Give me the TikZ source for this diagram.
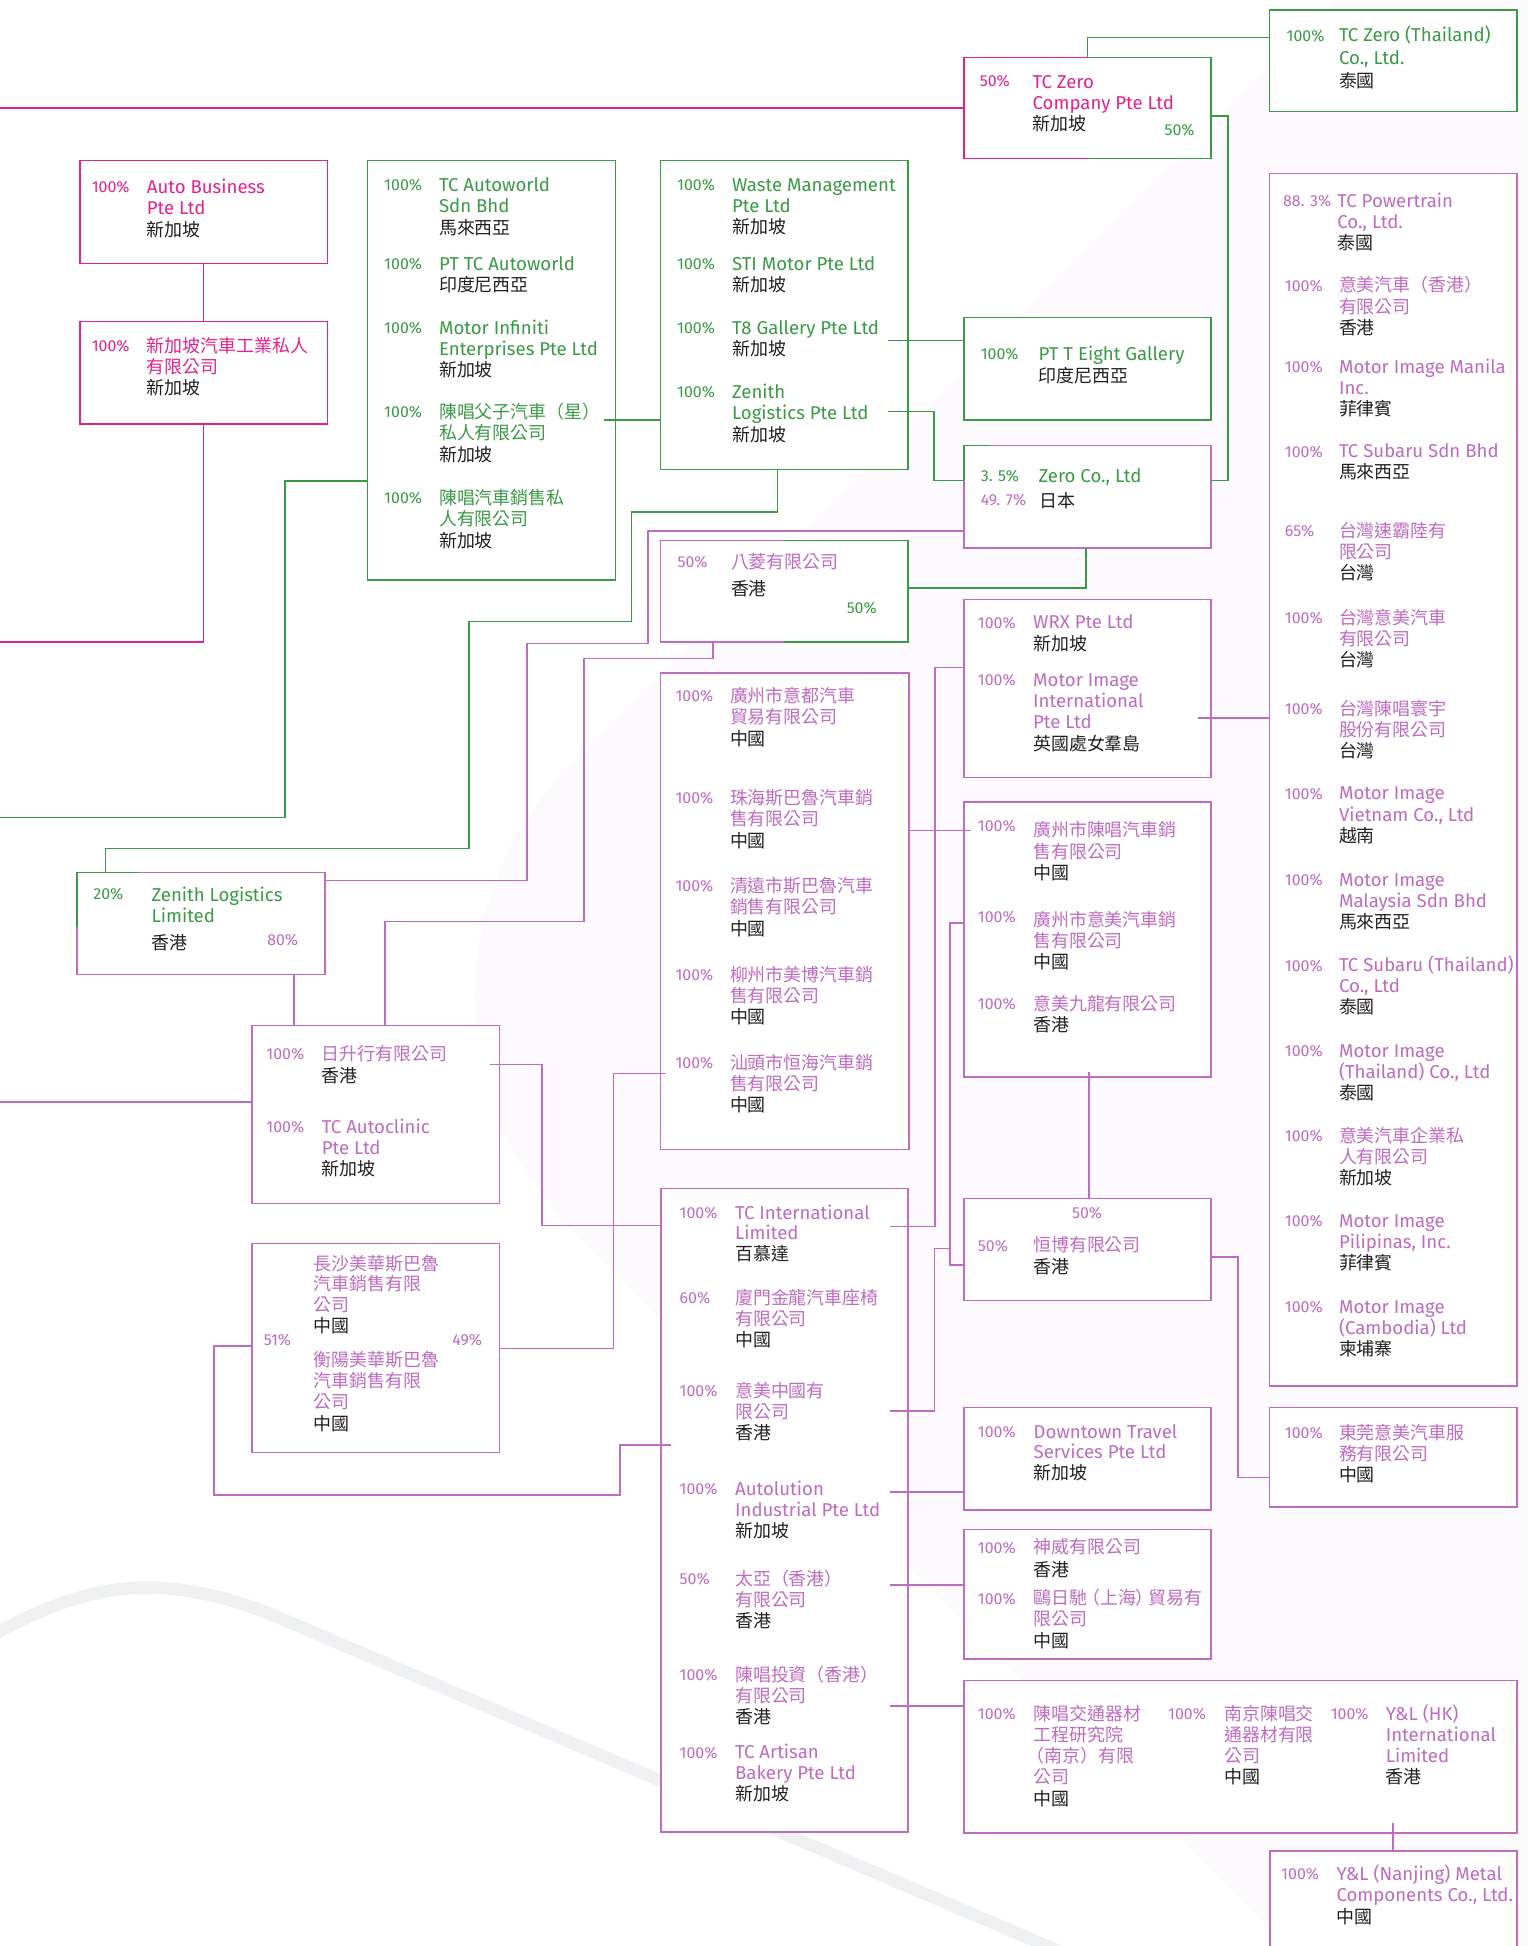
\documentclass[tikz,border=0pt]{standalone}
\usepackage{fontspec}
\setmainfont{Fira Sans}
\newfontfamily\cjk[Scale=0.965]{Noto Sans CJK TC}
\usetikzlibrary{fit}
\definecolor{cM}{HTML}{E2238D}
\definecolor{cG}{HTML}{3A9A46}
\definecolor{cO}{HTML}{BD6CBF}
\definecolor{cK}{HTML}{231F20}
\definecolor{bandc}{HTML}{EFF0F2}
\definecolor{palec}{HTML}{FCFAFC}
\newcommand\Ck[1]{{\cjk #1}}
\newcommand\Pl[1]{\textcolor{cK}{\cjk #1}}
\newcommand\ent[6][17.2]{\foreach \ltxt [count=\nn from 0] in {#6}{\node[nm,text=#5] (#2-\nn) at (#3,{#4+#1*\nn}) {\ltxt};}}
\begin{document}
\begin{tikzpicture}[x=0.6pt,y=-0.6pt,
  every node/.style={inner sep=0pt,outer sep=0pt},
  nm/.style={anchor=base west,font=\fontsize{9pt}{10.2pt}\selectfont},
  pc/.style={anchor=base west,font=\fontsize{7.7pt}{8.6pt}\selectfont},
  bx/.style={fill=white,line width=0.7pt,inner sep=0pt},
  ln/.style={line width=0.75pt}]
\useasboundingbox (0,0) rectangle (1232,1569);
% background
\fill[palec] (1077,0) -- (460,617) .. controls (356.9,720.1) and (356.9,886.9) .. (460,990) -- (1039,1569) -- (1232,1569) -- (1232,0) -- cycle;
\draw[bandc,line width=6pt] (-10,1321) .. controls (40,1292) and (80,1280) .. (118,1280) .. controls (150,1280) and (180,1287) .. (215,1300) -- (870,1580);
% boxes
\node[bx,draw=cM,fit={(64.5,129.6) (264,212.3)}] (ab) {};
\node[bx,draw=cM,fit={(64.5,259.2) (264,341.9)}] (sg) {};
\node[bx,draw=cG,fit={(296.3,129.6) (496.2,467.5)}] (tca) {};
\node[bx,draw=cG,fit={(532.6,129.6) (732,378.6)}] (wm) {};
\node[bx,fit={(777.3,46.3) (976.4,128)}] (tcz) {};
\node[bx,draw=cG,fit={(1023.7,7.9) (1223,90)}] (tzt) {};
\node[bx,draw=cG,fit={(777.3,256) (976.4,338.5)}] (pte) {};
\node[bx,draw=cO,fit={(777.3,359.4) (976.4,441.9)}] (zc) {};
\node[bx,fit={(532.6,435.7) (732,517.6)}] (bl) {};
\node[bx,draw=cO,fit={(1023.7,139.7) (1223,1117.6)}] (rc) {};
\node[bx,draw=cO,fit={(777.3,483.2) (976.4,626.9)}] (ym) {};
\node[bx,draw=cO,fit={(777.3,646.5) (976.4,868.4)}] (gz) {};
\node[bx,draw=cO,fit={(777.3,966.4) (976.4,1048.7)}] (hb) {};
\node[bx,draw=cO,fit={(1023.7,1134.6) (1223,1215)}] (dg) {};
\node[bx,draw=cO,fit={(532.6,542.5) (732.8,926.7)}] (cn) {};
\node[bx,fit={(62,703.6) (262,785.8)}] (zl) {};
\node[bx,draw=cO,fit={(203,827) (402.8,970.3)}] (rs) {};
\node[bx,draw=cO,fit={(203,1002.6) (402.8,1171)}] (cs) {};
\node[bx,draw=cO,fit={(533,958.2) (732,1477)}] (ti) {};
\node[bx,draw=cO,fit={(777.3,1134.7) (976.4,1217.5)}] (dt) {};
\node[bx,draw=cO,fit={(777.3,1233.3) (976.4,1337.6)}] (sw) {};
\node[bx,draw=cO,fit={(777.3,1355) (1223,1478)}] (cc) {};
\node[bx,draw=cO,fit={(1024,1492.5) (1223,1600)}] (yl) {};
% two-coloured borders
\draw[ln,cM,line width=0.7pt] (tcz.north) -- (tcz.north west) -- (tcz.south west) -- (tcz.south);
\draw[ln,cG,line width=0.7pt] (tcz.north) -- (tcz.north east) -- (tcz.south east) -- (tcz.south);
\draw[ln,cO,line width=0.7pt] (bl.north) -- (bl.north west) -- (bl.south west) -- (bl.south);
\draw[ln,cG,line width=0.7pt] (bl.north) -- (bl.north east) -- (bl.south east) -- (bl.south);
\draw[ln,cG,line width=0.7pt] ([xshift=30pt]zl.north west) -- (zl.north west) -- ([yshift=-26.4pt]zl.north west);
\draw[ln,cO,line width=0.7pt] ([yshift=-26.4pt]zl.north west) -- (zl.south west) -- (zl.south east) -- (zl.north east) -- ([xshift=30pt]zl.north west);
\draw[ln,cG,line width=0.7pt] ([xshift=12.6pt]zc.north west) -- (zc.north west) -- ([yshift=-16.5pt]zc.north west);
% coordinates
\coordinate (L87) at (0,87.15);
\coordinate (L517) at (0,517.7);
\coordinate (L659) at (0,659);
\coordinate (L888) at (0,888.6);
\coordinate (tzt-in) at (1023.7,30.2);
\coordinate (tcz-out) at (976.4,93.5);
\coordinate (zc-in) at (976.4,387.3);
\coordinate (wm-z) at (716,331.6);
\coordinate (zc-l) at (777.3,387.3);
\coordinate (wm-t8) at (716,274.6);
\coordinate (tca-c) at (487,338.5);
\coordinate (tca-w) at (296.3,387.9);
\coordinate (wm-b) at (627,378.6);
\coordinate (zl-t) at (85,703.6);
\coordinate (zc-b) at (875.5,441.9);
\coordinate (bl-r) at (732,474);
\coordinate (zc-w2) at (777.3,428);
\coordinate (zl-e) at (262,710);
\coordinate (bl-b) at (575,517.6);
\coordinate (rs-t) at (310.6,827);
\coordinate (zl-b) at (237,785.8);
\coordinate (rs-e) at (394.7,858.2);
\coordinate (ti-w1) at (533,988);
\coordinate (cn-w) at (537,865.6);
\coordinate (cs-e) at (402.8,1087.3);
\coordinate (cs-w) at (203,1085.2);
\coordinate (ti-in) at (541,1165);
\coordinate (ti-e1) at (717.6,989);
\coordinate (ym-w) at (777.3,538);
\coordinate (cn-e) at (732.8,669.7);
\coordinate (gz-in) at (782.6,669.7);
\coordinate (gz-w) at (777.3,744);
\coordinate (hb-w) at (777.3,1020);
\coordinate (ti-e2) at (717.6,1137.5);
\coordinate (j1) at (766,1006.5);
\coordinate (ti-e3) at (717.6,1203);
\coordinate (ti-e4) at (717.6,1278);
\coordinate (ti-e5) at (717.6,1375.5);
\coordinate (ym-e) at (966,578.7);
\coordinate (gz-b) at (878,864);
\coordinate (hb-e) at (976.4,1013.6);
\coordinate (dg-w) at (1023.7,1191.3);
\coordinate (cc-b) at (1123,1469.6);
% connectors
\draw[ln,cM] (L87) -- (tcz.west);
\draw[ln,cM] (ab.south) -- (sg.north);
\draw[ln,cM] (sg.south) |- (L517);
\draw[ln,cG] (tcz.north) |- (tzt-in);
\draw[ln,cG] (tcz-out) -- (990,93.5) -- (990,387.3) -- (zc-in);
\draw[ln,cG] (wm-z) -- (753,331.6) -- (753,387.3) -- (zc-l);
\draw[ln,cG] (wm-t8) -- (pte.west |- wm-t8);
\draw[ln,cG] (tca-c) -- (wm.west |- tca-c);
\draw[ln,cG] (tca-w) -- (230,387.9) -- (230,659) -- (L659);
\draw[ln,cG] (wm-b) -- (627,413) -- (509,413) -- (509,501) -- (378,501) -- (378,684) -- (85,684) -- (zl-t);
\draw[ln,cG] (zc-b) |- (bl-r);
\draw[ln,cO] (zc-w2) -- (522.6,428) -- (522.6,519) -- (425,519) -- (425,710) -- (zl-e);
\draw[ln,cO] (bl-b) -- (575,531) -- (471,531) -- (471,743) -- (310.6,743) -- (rs-t);
\draw[ln,cO] (zl-b) -- (rs.north -| zl-b);
\draw[ln,cO] (L888) -- (rs.west |- L888);
\draw[ln,cO] (rs-e) -- (436.8,858.2) -- (436.8,988) -- (ti-w1);
\draw[ln,cO] (cn-w) -- (494.5,865.6) -- (494.5,1087.3) -- (cs-e);
\draw[ln,cO] (cs-w) -- (172.4,1085.2) -- (172.4,1205.4) -- (500,1205.4) -- (500,1165) -- (ti-in);
\draw[ln,cO] (ti-e1) -- (754,989) -- (754,538) -- (ym-w);
\draw[ln,cO] (cn-e) -- (gz-in);
\draw[ln,cO] (gz-w) -- (766,744) -- (766,1020) -- (hb-w);
\draw[ln,cO] (ti-e2) -- (753.3,1137.5) -- (753.3,1006.5) -- (j1);
\draw[ln,cO] (ti-e3) -- (dt.west |- ti-e3);
\draw[ln,cO] (ti-e4) -- (sw.west |- ti-e4);
\draw[ln,cO] (ti-e5) -- (cc.west |- ti-e5);
\draw[ln,cO] (ym-e) -- (rc.west |- ym-e);
\draw[ln,cO] (gz-b) -- (hb.north -| gz-b);
\draw[ln,cO] (hb-e) -- (998,1013.6) -- (998,1191.3) -- (dg-w);
\draw[ln,cO] (cc-b) -- (yl.north -| cc-b);
% ---------- texts ----------
% Auto Business
\node[pc,text=cM] (p-ab) at (74,155.5) {100\%};
\ent{ab}{118.4}{156}{cM}{Auto Business,Pte Ltd,\Pl{新加坡}}
\node[pc,text=cM] (p-sg) at (74,283.5) {100\%};
\ent{sg}{118.4}{284}{cM}{\Ck{新加坡汽車工業私人},\Ck{有限公司},\Pl{新加坡}}
% TC Autoworld
\node[pc,text=cG] (p-tca1) at (309.8,153.5) {100\%};
\ent[17.4]{tca1}{354}{154}{cG}{TC Autoworld,Sdn Bhd,\Pl{馬來西亞}}
\node[pc,text=cG] (p-tca2) at (309.8,217.5) {100\%};
\ent{tca2}{354}{218}{cG}{PT TC Autoworld,\Pl{印度尼西亞}}
\node[pc,text=cG] (p-tca3) at (309.8,269) {100\%};
\ent{tca3}{354}{269.4}{cG}{Motor Infiniti,Enterprises Pte Ltd,\Pl{新加坡}}
\node[pc,text=cG] (p-tca4) at (309.8,337) {100\%};
\ent{tca4}{354}{337.3}{cG}{\Ck{陳唱父子汽車（星）},\Ck{私人有限公司},\Pl{新加坡}}
\node[pc,text=cG] (p-tca5) at (309.8,406.2) {100\%};
\ent{tca5}{354}{406.7}{cG}{\Ck{陳唱汽車銷售私},\Ck{人有限公司},\Pl{新加坡}}
% Waste Management
\node[pc,text=cG] (p-wm1) at (546,153.5) {100\%};
\ent{wm1}{590.3}{154}{cG}{Waste Management,Pte Ltd,\Pl{新加坡}}
\node[pc,text=cG] (p-wm2) at (546,217.5) {100\%};
\ent{wm2}{590.3}{218}{cG}{STI Motor Pte Ltd,\Pl{新加坡}}
\node[pc,text=cG] (p-wm3) at (546,269) {100\%};
\ent{wm3}{590.3}{269.4}{cG}{T8 Gallery Pte Ltd,\Pl{新加坡}}
\node[pc,text=cG] (p-wm4) at (546,320.8) {100\%};
\ent{wm4}{590.3}{321.3}{cG}{Zenith,Logistics Pte Ltd,\Pl{新加坡}}
% TC Zero
\node[pc,text=cM] (p-tcz) at (790,69.5) {50\%};
\ent[17]{tcz}{832.6}{71.3}{cM}{TC Zero,Company Pte Ltd,\Pl{新加坡}}
\node[pc,text=cG] (p-tcz2) at (939,109.5) {50\%};
\node[pc,text=cG] (p-tzt) at (1037.4,33.3) {100\%};
\ent[18.3]{tzt}{1079.6}{33.8}{cG}{TC Zero (Thailand),{Co., Ltd.},\Pl{泰國}}
\node[pc,text=cG] (p-pte) at (790.8,290) {100\%};
\ent[17.5]{pte}{837.4}{290.5}{cG}{PT T Eight Gallery,\Pl{印度尼西亞}}
% Zero Co
\node[pc,text=cG] (p-zc1) at (790.8,388.5) {3. 5\%};
\node[pc,text=cO] (p-zc2) at (790.8,407.5) {49. 7\%};
\node[nm,text=cG] (zc-0) at (837.4,389) {Zero Co., Ltd};
\node[nm] (zc-1) at (838.5,409) {\Pl{日本}};
% Ba Ling
\node[pc,text=cO] (p-bl1) at (546.3,457.5) {50\%};
\node[nm,text=cO] (bl-0) at (589.4,458) {\Ck{八菱有限公司}};
\node[nm] (bl-1) at (589.4,480.5) {\Pl{香港}};
\node[pc,text=cG] (p-bl2) at (682.7,494.3) {50\%};
% right column
\node[pc,text=cO] (p-rc1) at (1034.6,166.5) {88. 3\%};
\ent[17]{rc1}{1078.3}{167}{cO}{TC Powertrain,{Co., Ltd.},\Pl{泰國}}
\node[pc,text=cO] (p-rc2) at (1036,235) {100\%};
\ent[17]{rc2}{1079.6}{235.4}{cO}{\Ck{意美汽車（香港）},\Ck{有限公司},\Pl{香港}}
\node[pc,text=cO] (p-rc3) at (1036,300.5) {100\%};
\ent[17]{rc3}{1079.6}{301}{cO}{Motor Image Manila,Inc.,\Pl{菲律賓}}
\node[pc,text=cO] (p-rc4) at (1036,368.5) {100\%};
\ent[17]{rc4}{1079.6}{369}{cO}{TC Subaru Sdn Bhd,\Pl{馬來西亞}}
\node[pc,text=cO] (p-rc5) at (1036,432.5) {65\%};
\ent[17]{rc5}{1079.6}{433}{cO}{\Ck{台灣速霸陸有},\Ck{限公司},\Pl{台灣}}
\node[pc,text=cO] (p-rc6) at (1036,503.1) {100\%};
\ent[17]{rc6}{1079.6}{503.6}{cO}{\Ck{台灣意美汽車},\Ck{有限公司},\Pl{台灣}}
\node[pc,text=cO] (p-rc7) at (1036,576) {100\%};
\ent[17]{rc7}{1079.6}{576.5}{cO}{\Ck{台灣陳唱寰宇},\Ck{股份有限公司},\Pl{台灣}}
\node[pc,text=cO] (p-rc8) at (1036,644.5) {100\%};
\ent[17]{rc8}{1079.6}{645}{cO}{Motor Image,{Vietnam Co., Ltd},\Pl{越南}}
\node[pc,text=cO] (p-rc9) at (1036,714.3) {100\%};
\ent[17]{rc9}{1079.6}{714.8}{cO}{Motor Image,Malaysia Sdn Bhd,\Pl{馬來西亞}}
\node[pc,text=cO] (p-rc10) at (1036,783) {100\%};
\ent[17]{rc10}{1079.6}{783.5}{cO}{TC Subaru (Thailand),{Co., Ltd},\Pl{泰國}}
\node[pc,text=cO] (p-rc11) at (1036,852) {100\%};
\ent[17]{rc11}{1079.6}{852.5}{cO}{Motor Image,{(Thailand) Co., Ltd},\Pl{泰國}}
\node[pc,text=cO] (p-rc12) at (1036,920.5) {100\%};
\ent[17]{rc12}{1079.6}{921}{cO}{\Ck{意美汽車企業私},\Ck{人有限公司},\Pl{新加坡}}
\node[pc,text=cO] (p-rc13) at (1036,989.1) {100\%};
\ent[17]{rc13}{1079.6}{989.6}{cO}{Motor Image,{Pilipinas, Inc.},\Pl{菲律賓}}
\node[pc,text=cO] (p-rc14) at (1036,1058.5) {100\%};
\ent[17]{rc14}{1079.6}{1059}{cO}{Motor Image,{(Cambodia) Ltd},\Pl{柬埔寨}}
% WRX
\node[pc,text=cO] (p-ym1) at (788.5,506.5) {100\%};
\ent[17.4]{ym1}{833}{507}{cO}{WRX Pte Ltd,\Pl{新加坡}}
\node[pc,text=cO] (p-ym2) at (788.5,553) {100\%};
\ent{ym2}{833}{553.3}{cO}{Motor Image,International,Pte Ltd,\Pl{英國處女羣島}}
% Guangzhou box
\node[pc,text=cO] (p-gz1) at (788.5,670.7) {100\%};
\ent[17.6]{gz1}{833}{674.3}{cO}{\Ck{廣州市陳唱汽車銷},\Ck{售有限公司},\Pl{中國}}
\node[pc,text=cO] (p-gz2) at (788.5,744) {100\%};
\ent[17.1]{gz2}{833}{746.6}{cO}{\Ck{廣州市意美汽車銷},\Ck{售有限公司},\Pl{中國}}
\node[pc,text=cO] (p-gz3) at (788.5,813.8) {100\%};
\ent[16.7]{gz3}{833}{815}{cO}{\Ck{意美九龍有限公司},\Pl{香港}}
% Heng Bo
\node[pc,text=cO,anchor=base] (p-hb0) at (876.5,982.5) {50\%};
\node[pc,text=cO] (p-hb) at (788.5,1009) {50\%};
\ent[17.4]{hb}{833}{1009.4}{cO}{\Ck{恒博有限公司},\Pl{香港}}
% Dongguan
\node[pc,text=cO] (p-dg) at (1036,1160.1) {100\%};
\ent[17]{dg}{1079.6}{1160.6}{cO}{\Ck{東莞意美汽車服},\Ck{務有限公司},\Pl{中國}}
% China box
\node[pc,text=cO] (p-cn1) at (544.7,565.9) {100\%};
\ent{cn1}{588.6}{566.4}{cO}{\Ck{廣州市意都汽車},\Ck{貿易有限公司},\Pl{中國}}
\node[pc,text=cO] (p-cn2) at (544.7,648.1) {100\%};
\ent{cn2}{588.6}{648.6}{cO}{\Ck{珠海斯巴魯汽車銷},\Ck{售有限公司},\Pl{中國}}
\node[pc,text=cO] (p-cn3) at (544.7,719) {100\%};
\ent{cn3}{588.6}{719.5}{cO}{\Ck{清遠市斯巴魯汽車},\Ck{銷售有限公司},\Pl{中國}}
\node[pc,text=cO] (p-cn4) at (544.7,790.5) {100\%};
\ent{cn4}{588.6}{791}{cO}{\Ck{柳州市美博汽車銷},\Ck{售有限公司},\Pl{中國}}
\node[pc,text=cO] (p-cn5) at (544.7,861.5) {100\%};
\ent{cn5}{588.6}{862}{cO}{\Ck{汕頭市恒海汽車銷},\Ck{售有限公司},\Pl{中國}}
% Zenith Logistics Limited
\node[pc,text=cG] (p-zl1) at (75.3,725.5) {20\%};
\ent[17]{zl}{122.2}{726.7}{cG}{Zenith Logistics,Limited}
\node[nm] (zl-p) at (122.2,765.4) {\Pl{香港}};
\node[pc,text=cO] (p-zl2) at (215.5,762.5) {80\%};
% Ri Sheng Hang
\node[pc,text=cO] (p-rs1) at (214.8,854.5) {100\%};
\ent[17.7]{rs1}{259.6}{855}{cO}{\Ck{日升行有限公司},\Pl{香港}}
\node[pc,text=cO] (p-rs2) at (214.8,913.3) {100\%};
\ent[16.9]{rs2}{259.6}{913.8}{cO}{TC Autoclinic,Pte Ltd,\Pl{新加坡}}
% Changsha / Hengyang
\ent[16.8]{cs1}{252.8}{1024}{cO}{\Ck{長沙美華斯巴魯},\Ck{汽車銷售有限},\Ck{公司},\Pl{中國}}
\ent[17]{cs2}{252.8}{1102}{cO}{\Ck{衡陽美華斯巴魯},\Ck{汽車銷售有限},\Ck{公司},\Pl{中國}}
\node[pc,text=cO] (p-cs1) at (212.8,1084.5) {51\%};
\node[pc,text=cO] (p-cs2) at (364.8,1084.5) {49\%};
% TC International
\node[pc,text=cO] (p-ti1) at (548,982.5) {100\%};
\ent[16.6]{ti1}{592.7}{983}{cO}{TC International,Limited,\Pl{百慕達}}
\node[pc,text=cO] (p-ti2) at (548,1050.9) {60\%};
\ent[17.3]{ti2}{592.7}{1051.4}{cO}{\Ck{廈門金龍汽車座椅},\Ck{有限公司},\Pl{中國}}
\node[pc,text=cO] (p-ti3) at (548,1126.1) {100\%};
\ent[16.9]{ti3}{592.7}{1126.6}{cO}{\Ck{意美中國有},\Ck{限公司},\Pl{香港}}
\node[pc,text=cO] (p-ti4) at (548,1205.1) {100\%};
\ent[17]{ti4}{592.7}{1205.6}{cO}{Autolution,Industrial Pte Ltd,\Pl{新加坡}}
\node[pc,text=cO] (p-ti5) at (548,1277.5) {50\%};
\ent[17]{ti5}{592.7}{1278}{cO}{\Ck{太亞（香港）},\Ck{有限公司},\Pl{香港}}
\node[pc,text=cO] (p-ti6) at (548,1355) {100\%};
\ent[17.1]{ti6}{592.7}{1355.5}{cO}{\Ck{陳唱投資（香港）},\Ck{有限公司},\Pl{香港}}
\node[pc,text=cO] (p-ti7) at (548,1417.5) {100\%};
\ent[16.8]{ti7}{592.7}{1418}{cO}{TC Artisan,Bakery Pte Ltd,\Pl{新加坡}}
% Downtown
\node[pc,text=cO] (p-dt) at (788.5,1159.1) {100\%};
\ent[16.6]{dt}{833.4}{1159.6}{cO}{Downtown Travel,Services Pte Ltd,\Pl{新加坡}}
% Shen Wei
\node[pc,text=cO] (p-sw1) at (788.5,1252.3) {100\%};
\ent[18.2]{sw1}{833.4}{1252.8}{cO}{\Ck{神威有限公司},\Pl{香港}}
\node[pc,text=cO] (p-sw2) at (788.5,1293.3) {100\%};
\ent[17.1]{sw2}{833.4}{1293.8}{cO}{\Ck{鷗日馳\kern-0.3em（上海）\kern-0.3em貿易有},\Ck{限公司},\Pl{中國}}
% Nanjing box
\node[pc,text=cO] (p-cc1) at (788.5,1386.5) {100\%};
\ent[17.1]{cc1}{833.4}{1387}{cO}{\Ck{陳唱交通器材},\Ck{工程研究院},\Ck{\kern-0.4em（南京）有限},\Ck{公司},\Pl{中國}}
\node[pc,text=cO] (p-cc2) at (941.8,1386.5) {100\%};
\ent[17.1]{cc2}{987}{1387}{cO}{\Ck{南京陳唱交},\Ck{通器材有限},\Ck{公司},\Pl{中國}}
\node[pc,text=cO] (p-cc3) at (1073,1386.5) {100\%};
\ent[17.1]{cc3}{1117.3}{1387}{cO}{Y\&L (HK),International,Limited,\Pl{香港}}
% Y&L Nanjing
\node[pc,text=cO] (p-yl) at (1033,1515.5) {100\%};
\ent[17.3]{yl}{1077.6}{1516}{cO}{Y\&L (Nanjing) Metal,{Components Co., Ltd.},\Pl{中國}}
\end{tikzpicture}
\end{document}
